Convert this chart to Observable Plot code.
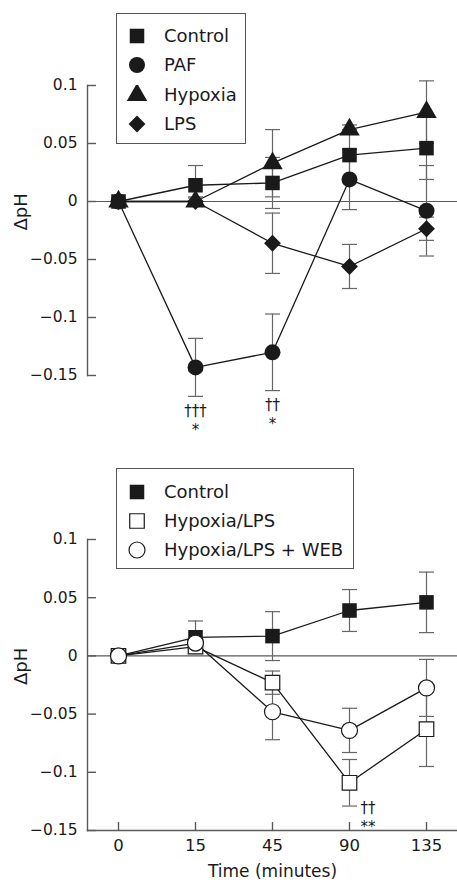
<!DOCTYPE html>
<html><head><meta charset="utf-8">
<script src="https://cdn.jsdelivr.net/npm/d3@7"></script>
<script src="https://cdn.jsdelivr.net/npm/@observablehq/plot@0.6"></script>
<style>
html,body{margin:0;padding:0;background:#fff;}
#chart{position:relative;width:457px;height:883px;font-family:"DejaVu Sans",sans-serif;color:#1a1a1a;}
#chart svg.plot{display:block;}
.legend{position:absolute;border:1px solid #555;background:#fff;box-sizing:border-box;}
.legend .row{position:absolute;left:0;height:20px;margin-top:-10px;display:flex;align-items:center;font-size:18px;line-height:1;white-space:nowrap;}
.legend .row svg{position:absolute;left:0;top:0;}
.legend .row span{position:absolute;left:47px;top:1px;}
</style></head>
<body><div id="chart"></div>
<script>
// ---- data ----
const times = [0, 15, 45, 90, 135];
const xTickLabels = ["0", "15", "45", "90", "135"];
const yTicks = [0.1, 0.05, 0, -0.05, -0.1, -0.15];
const yTickLabels = ["0.1", "0.05", "0", "\u22120.05", "\u22120.1", "\u22120.15"];

// top panel
const controlA = [0, 0.014, 0.016, 0.040, 0.046];
const controlAErr = [0, 0.017, 0.022, 0.022, 0.027];
const paf = [0, -0.143, -0.130, 0.019, -0.008];
const pafErr = [0, 0.025, 0.033, 0.026, 0.039];
const hypoxia = [0, 0, 0.033, 0.062, 0.077];
const hypoxiaErr = [0, 0.004, 0.029, 0.004, 0.027];
const lps = [0, 0, -0.036, -0.056, -0.0235];
const lpsErr = [0, 0.003, 0.026, 0.019, 0.010];

// bottom panel
const controlB = [0, 0.016, 0.017, 0.039, 0.046];
const controlBErr = [0, 0.014, 0.021, 0.018, 0.026];
const hypLps = [0, 0.008, -0.023, -0.109, -0.063];
const hypLpsErr = [0, 0.004, 0.010, 0.020, 0.032];
const hypLpsWeb = [0, 0.011, -0.048, -0.064, -0.0275];
const hypLpsWebErr = [0, 0.004, 0.024, 0.019, 0.0245];

const legendTop = ["Control", "PAF", "Hypoxia", "LPS"];
const legendBottom = ["Control", "Hypoxia/LPS", "Hypoxia/LPS + WEB"];

// significance annotations
const annotTopTimes = [15, 45];
const annotTopDaggers = ["\u2020\u2020\u2020", "\u2020\u2020"];
const annotTopStars = ["*", "*"];
const annotBottomTimes = [90];
const annotBottomDaggers = ["\u2020\u2020"];
const annotBottomStars = ["**"];

// ---- styles ----
const INK = "#1a1a1a", AXIS = "#5a5a5a", ERR = "#666";
const W = 457;
const FONT = "DejaVu Sans, sans-serif";

const seriesTop = [
  {name: legendTop[0], v: controlA, e: controlAErr, symbol: "square", r: 8.2, fill: INK},
  {name: legendTop[1], v: paf, e: pafErr, symbol: "circle", r: 8, fill: INK},
  {name: legendTop[2], v: hypoxia, e: hypoxiaErr, symbol: "triangle", r: 7.6, fill: INK},
  {name: legendTop[3], v: lps, e: lpsErr, symbol: "diamond2", r: 7.6, fill: INK}
];
const seriesBottom = [
  {name: legendBottom[0], v: controlB, e: controlBErr, symbol: "square", r: 8.2, fill: INK},
  {name: legendBottom[1], v: hypLps, e: hypLpsErr, symbol: "square", r: 8.2, fill: "white", stroke: INK},
  {name: legendBottom[2], v: hypLpsWeb, e: hypLpsWebErr, symbol: "circle", r: 8, fill: "white", stroke: INK}
];

const capSymbol = {draw(ctx) { ctx.moveTo(-7.5, 0); ctx.lineTo(7.5, 0); }};

function rows(s) {
  return times.map((t, i) => ({t, v: s.v[i], lo: s.v[i] - s.e[i], hi: s.v[i] + s.e[i], e: s.e[i]}));
}

function seriesMarks(series) {
  const lines = [], errs = [], dots = [];
  for (const s of series) {
    const d = rows(s);
    const de = d.filter(r => r.e > 0);
    lines.push(Plot.line(d, {x: "t", y: "v", stroke: INK, strokeWidth: 1.3}));
    errs.push(Plot.ruleX(de, {x: "t", y1: "lo", y2: "hi", stroke: ERR, strokeWidth: 1.2}));
    errs.push(Plot.dot(de.flatMap(r => [{t: r.t, y: r.lo}, {t: r.t, y: r.hi}]),
      {x: "t", y: "y", symbol: capSymbol, fill: "none", stroke: ERR, strokeWidth: 1.2}));
    dots.push(Plot.dot(d, {x: "t", y: "v", symbol: s.symbol, r: s.r, fill: s.fill,
      stroke: s.stroke || "none", strokeWidth: 1.2}));
  }
  return [...lines, ...errs, ...dots];
}

function panel({series, height, marginTop, marginBottom, bottomAxis, annots}) {
  const frameH = height - marginTop - marginBottom;
  const marks = [
    Plot.frame({anchor: "left", stroke: AXIS, strokeWidth: 1.4}),
    Plot.ruleY(yTicks, {stroke: AXIS, strokeWidth: 1.4, insetRight: W - 87 - 9}),
    Plot.axisY(yTicks, {tickSize: 0, tickPadding: 10, fontSize: 15.5, label: null,
      tickFormat: d => yTickLabels[yTicks.indexOf(d)]}),
    Plot.text(["\u0394pH"], {frameAnchor: "left", rotate: -90, dx: -66, fontSize: 18, fill: INK}),
    Plot.ruleY([0], {stroke: AXIS, strokeWidth: 1.2})
  ];
  if (bottomAxis) {
    marks.push(
      Plot.frame({anchor: "bottom", stroke: AXIS, strokeWidth: 1.4}),
      Plot.ruleX(times, {stroke: AXIS, strokeWidth: 1.4, insetTop: frameH - 8}),
      Plot.axisX(times, {tickSize: 0, tickPadding: 9, fontSize: 16.5, label: null,
        tickFormat: d => xTickLabels[times.indexOf(d)]}),
      Plot.text(["Time (minutes)"], {frameAnchor: "bottom", dy: 46, fontSize: 17, fill: INK})
    );
  }
  marks.push(...seriesMarks(series));
  marks.push(...annots);
  return Plot.plot({
    width: W, height, marginLeft: 87, marginRight: 0, marginTop, marginBottom,
    x: {type: "point", domain: times, padding: 0.375, axis: null},
    y: {domain: [-0.15, 0.1], axis: null},
    style: {fontFamily: FONT, color: INK, background: "transparent", overflow: "visible"},
    marks
  });
}

const pafRows = rows(seriesTop[1]);
const annotTop = [
  Plot.text(annotTopTimes.map((t, i) => ({t, y: pafRows[times.indexOf(t)].lo, s: annotTopDaggers[i]})),
    {x: "t", y: "y", text: "s", dy: 15, fontSize: 15, fill: INK}),
  Plot.text(annotTopTimes.map((t, i) => ({t, y: pafRows[times.indexOf(t)].lo, s: annotTopStars[i]})),
    {x: "t", y: "y", text: "s", dy: 34, fontSize: 15, fill: INK})
];
const hlRows = rows(seriesBottom[1]);
const annotBottom = [
  Plot.text(annotBottomTimes.map((t, i) => ({t, y: hlRows[times.indexOf(t)].lo, s: annotBottomDaggers[i]})),
    {x: "t", y: "y", text: "s", dx: 11, dy: 2, textAnchor: "start", fontSize: 15, fill: INK}),
  Plot.text(annotBottomTimes.map((t, i) => ({t, y: hlRows[times.indexOf(t)].lo, s: annotBottomStars[i]})),
    {x: "t", y: "y", text: "s", dx: 11, dy: 21, textAnchor: "start", fontSize: 15, fill: INK})
];

const chart = document.getElementById("chart");
const topPlot = panel({series: seriesTop, height: 440, marginTop: 85, marginBottom: 65, bottomAxis: false, annots: annotTop});
const botPlot = panel({series: seriesBottom, height: 443, marginTop: 99, marginBottom: 53, bottomAxis: true, annots: annotBottom});
chart.append(topPlot, botPlot);

function legend(series, box, firstRow, spacing) {
  const div = document.createElement("div");
  div.className = "legend";
  Object.assign(div.style, {left: box[0] + "px", top: box[1] + "px", width: box[2] + "px", height: box[3] + "px"});
  series.forEach((s, i) => {
    const row = document.createElement("div");
    row.className = "row";
    row.style.top = (firstRow + i * spacing) + "px";
    row.style.width = (box[2] - 2) + "px";
    const sym = {square: d3.symbolSquare, circle: d3.symbolCircle, triangle: d3.symbolTriangle, diamond2: d3.symbolDiamond2}[s.symbol];
    const svg = d3.create("svg").attr("width", 40).attr("height", 20);
    svg.append("path")
      .attr("transform", "translate(20,10)")
      .attr("d", d3.symbol(sym, Math.PI * s.r * s.r)())
      .attr("fill", s.fill).attr("stroke", s.stroke || "none").attr("stroke-width", 1.2);
    row.append(svg.node());
    const span = document.createElement("span");
    span.textContent = s.name;
    row.append(span);
    div.append(row);
  });
  chart.append(div);
}
legend(seriesTop, [116, 13, 130, 131], 22, 29.4);
legend(seriesBottom, [116, 468, 238, 101], 23, 29);
</script>
</body></html>
